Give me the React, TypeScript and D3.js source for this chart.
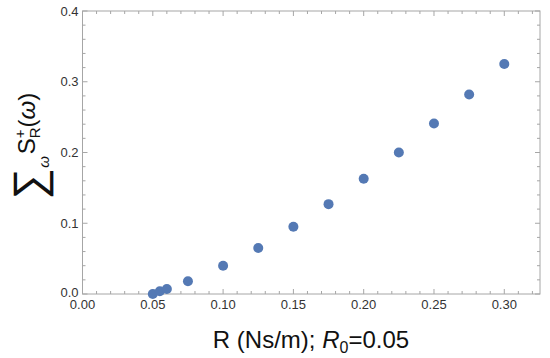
import React from "react";
import * as d3 from "d3";

// R values (Ns/m) and summed spectrum values
const rValues = [0.05, 0.055, 0.06, 0.075, 0.1, 0.125, 0.15, 0.175, 0.2, 0.225, 0.25, 0.275, 0.3];
const sumValues = [0.0, 0.004, 0.007, 0.018, 0.04, 0.065, 0.095, 0.127, 0.163, 0.2, 0.241, 0.282, 0.325];

const xTicks = [0, 0.05, 0.1, 0.15, 0.2, 0.25, 0.3];
const yTicks = [0, 0.1, 0.2, 0.3, 0.4];

const width = 550;
const height = 358;
const margin = { top: 11, right: 10, bottom: 64, left: 82.5 };

const frameColor = "#a6a6a6";
const dotColor = "#5479b4";
const font = "'Liberation Sans', Arial, sans-serif";

export default function App() {
  const x = d3.scaleLinear().domain([0, 0.3254]).range([margin.left, width - margin.right]);
  const y = d3.scaleLinear().domain([0, 0.4]).range([height - margin.bottom, margin.top]);

  const [x0, x1] = x.range();
  const [y0, y1] = y.range();

  const xMinor = d3.range(0, 0.326, 0.01).filter(v => !xTicks.some(t => Math.abs(t - v) < 1e-6));
  const yMinor = d3.range(0, 0.401, 0.02).filter(v => !yTicks.some(t => Math.abs(t - v) < 1e-6));

  const major = 5;
  const minor = 3;

  return (
    <svg width={width} height={height} style={{ position: "absolute", left: 0, top: 0 }} fontFamily={font}>
      <rect x={0} y={0} width={width} height={height} fill="white" />
      {/* frame */}
      <rect x={x0} y={y1} width={x1 - x0} height={y0 - y1} fill="none" stroke={frameColor} strokeWidth={1} />

      {/* x ticks bottom + top */}
      {xTicks.map(t => (
        <g key={"xt" + t}>
          <line x1={x(t)} x2={x(t)} y1={y0} y2={y0 - major} stroke={frameColor} />
          <line x1={x(t)} x2={x(t)} y1={y1} y2={y1 + major} stroke={frameColor} />
          <text x={x(t)} y={y0 + 15} textAnchor="middle" fontSize={13} fill="#333">
            {t.toFixed(2)}
          </text>
        </g>
      ))}
      {xMinor.map(t => (
        <g key={"xm" + t}>
          <line x1={x(t)} x2={x(t)} y1={y0} y2={y0 - minor} stroke={frameColor} />
          <line x1={x(t)} x2={x(t)} y1={y1} y2={y1 + minor} stroke={frameColor} />
        </g>
      ))}

      {/* y ticks left + right */}
      {yTicks.map(t => (
        <g key={"yt" + t}>
          <line x1={x0} x2={x0 + major} y1={y(t)} y2={y(t)} stroke={frameColor} />
          <line x1={x1} x2={x1 - major} y1={y(t)} y2={y(t)} stroke={frameColor} />
          <text x={x0 - 4} y={y(t) + (t === 0 ? 3 : 4.5)} textAnchor="end" fontSize={13} fill="#333">
            {t.toFixed(1)}
          </text>
        </g>
      ))}
      {yMinor.map(t => (
        <g key={"ym" + t}>
          <line x1={x0} x2={x0 + minor} y1={y(t)} y2={y(t)} stroke={frameColor} />
          <line x1={x1} x2={x1 - minor} y1={y(t)} y2={y(t)} stroke={frameColor} />
        </g>
      ))}

      {/* points */}
      {rValues.map((r, i) => (
        <circle key={"p" + i} cx={x(r)} cy={y(sumValues[i])} r={5} fill={dotColor} />
      ))}

      {/* x label */}
      <text x={311} y={348} textAnchor="middle" fontSize={24} fill="#111">
        R (Ns/m);{" "}
        <tspan fontStyle="italic">R</tspan>
        <tspan fontSize={16} dy={5}>0</tspan>
        <tspan dy={-5}>=0.05</tspan>
      </text>

      {/* y label */}
      <g transform="translate(35,146) rotate(-90)">
        <text x={0} y={0} textAnchor="middle" fill="#111" fontSize={24}>
          <tspan fontSize={44} dy={9}>∑</tspan>
          <tspan fontSize={15} fontStyle="italic" dy={5}>ω</tspan>
          <tspan dy={-14} dx={2}>S</tspan>
          <tspan fontSize={15} dy={-10}>+</tspan>
          <tspan fontSize={15} dx={-9} dy={15}>R</tspan>
          <tspan dy={-5}>(</tspan>
          <tspan fontStyle="italic">ω</tspan>
          <tspan>)</tspan>
        </text>
      </g>
    </svg>
  );
}
